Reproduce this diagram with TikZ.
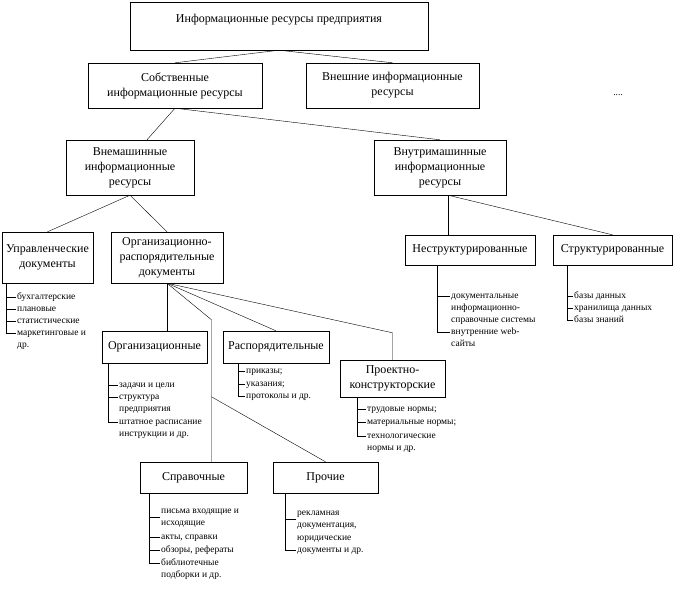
\documentclass[tikz,border=0pt]{standalone}
\usepackage{fontspec}
\setmainfont{Liberation Serif}
\usepackage{tikz}
\usetikzlibrary{positioning}
\newcommand{\boxfont}{\fontsize{12}{15}\selectfont}
\newcommand{\itemfont}{\fontsize{9.5}{12}\selectfont}
\newcommand{\rows}[1]{\begin{tabular}[t]{@{}l@{}}#1\end{tabular}}
\tikzset{
    block/.style={draw, thin, align=center, font=\boxfont, inner sep=2pt}, % рамка блока
    link/.style={draw, thin},
    item/.style={anchor=north west, inner xsep=1pt, inner ysep=0pt, font=\itemfont}
}

\begin{document}
\begin{tikzpicture}[x=1pt, y=-1pt]
	\useasboundingbox (0,0) rectangle (673,589);

	\node (res) [block, minimum width=298pt, minimum height=48pt, text height=12pt, text depth=20pt] at (279,26) {Информационные ресурсы предприятия};
	\node (own) [block, minimum width=174pt, minimum height=45pt] at (175,85.5) {Собственные\\информационные ресурсы};
	\node (ext) [block, minimum width=173pt, minimum height=45pt] at (392.5,85.5) {Внешние информационные\\ресурсы};
	\node (dots) [font=\itemfont] at (618,95) {....};
	\node (offl) [block, minimum width=128pt, minimum height=55pt] at (130,167.5) {Внемашинные\\информационные\\ресурсы};
	\node (onl) [block, minimum width=132pt, minimum height=55pt] at (440,167.5) {Внутримашинные\\информационные\\ресурсы};
	\node (mgmt) [block, minimum width=91pt, minimum height=51pt] at (47.5,257.5) {Управленческие\\документы};
	\node (ord) [block, minimum width=112pt, minimum height=51pt] at (167,257.5) {Организационно-\\распорядительные\\документы};
	\node (unstr) [block, minimum width=130pt, minimum height=30pt] at (470,250) {Неструктурированные};
	\node (str) [block, minimum width=119pt, minimum height=30pt] at (612.5,250) {Структурированные};
	\node (orgz) [block, minimum width=105pt, minimum height=32pt] at (154.5,347) {Организационные};
	\node (disp) [block, minimum width=106pt, minimum height=32pt] at (276,347) {Распорядительные};
	\node (proj) [block, minimum width=105pt, minimum height=37pt] at (392.5,378.5) {Проектно-\\конструкторские};
	\node (ref) [block, minimum width=107pt, minimum height=31pt] at (193.5,477.5) {Справочные};
	\node (other) [block, minimum width=105pt, minimum height=31pt] at (325.5,477.5) {Прочие};

	% перечни
	\node (m1) [item] at (16,291) {\rows{бухгалтерские}};
	\node (m2) [item] at (16,303) {\rows{плановые}};
	\node (m3) [item] at (16,315) {\rows{статистические}};
	\node (m4) [item] at (16,327) {\rows{маркетинговые и\\др.}};
	\node (u1) [item] at (450,290) {\rows{документальные\\информационно-\\справочные системы}};
	\node (u2) [item] at (450,326) {\rows{внутренние web-\\сайты}};
	\node (s1) [item] at (573,290) {\rows{базы данных}};
	\node (s2) [item] at (573,302) {\rows{хранилища данных}};
	\node (s3) [item] at (573,314) {\rows{базы знаний}};
	\node (o1) [item] at (118,379) {\rows{задачи и цели}};
	\node (o2) [item] at (118,391) {\rows{структура\\предприятия}};
	\node (o3) [item] at (118,416) {\rows{штатное расписание\\инструкции и др.}};
	\node (d1) [item] at (245,365) {\rows{приказы;}};
	\node (d2) [item] at (245,378) {\rows{указания;}};
	\node (d3) [item] at (245,390) {\rows{протоколы и др.}};
	\node (p1) [item] at (366,403) {\rows{трудовые нормы;}};
	\node (p2) [item] at (366,416) {\rows{материальные нормы;}};
	\node (p3) [item] at (366,430) {\rows{технологические\\нормы и др.}};
	\node (r1) [item] at (160,505) {\rows{письма входящие и\\исходящие}};
	\node (r2) [item] at (160,531) {\rows{акты, справки}};
	\node (r3) [item] at (160,544) {\rows{обзоры, рефераты}};
	\node (r4) [item] at (160,557) {\rows{библиотечные\\подборки и др.}};
	\node (q1) [item] at (296,507) {\rows{рекламная\\документация,}};
	\node (q2) [item] at (296,532) {\rows{юридические\\документы и др.}};

	\draw[link] (res.south) -- (own.north);
	\draw[link] (res.south) -- (ext.north);
	\draw[link] (own.south) -- ([xshift=17pt]offl.north);
	\draw[link] (own.south) -- (onl.north);
	\draw[link] (offl.south) -- (mgmt.north);
	\draw[link] (offl.south) -- (ord.north);
	\coordinate (onlfork) at ([xshift=8pt]onl.south);
	\draw[link] (onlfork) -- (onlfork |- unstr.north);
	\draw[link] (onlfork) -- (str.north);
	\draw[link] (ord.south) -- (ord.south |- orgz.north);
	\draw[link] (ord.south) -- (disp.north);
	\draw[link] (ord.south) -- ([yshift=27pt]proj.north) -- (proj.north);
	\coordinate (refbend) at ([xshift=18pt,yshift=142pt]ref.north);
	\coordinate (fork) at ([xshift=18pt,yshift=65pt]ref.north);
	\draw[link] (ord.south) -- (refbend) -- ([xshift=18pt]ref.north);
	\draw[link] (fork) -- (other.north);

	% стволы и отводы
	\draw[link] ([xshift=4pt]mgmt.south west) |- ([yshift=-6.5pt]m4.north west);
	\foreach \n in {m1,m2,m3}
		\draw[link] ([yshift=-6.5pt]\n.north west) -- ++(-10,0);
	\draw[link] ([xshift=32pt]unstr.south west) |- ([yshift=-6.5pt]u2.north west);
	\draw[link] ([yshift=-6.5pt]u1.north west) -- ++(-13,0);
	\draw[link] ([xshift=14pt]str.south west) |- ([yshift=-6.5pt]s3.north west);
	\foreach \n in {s1,s2}
		\draw[link] ([yshift=-6.5pt]\n.north west) -- ++(-6,0);
	\draw[link] ([xshift=6pt]orgz.south west) |- ([yshift=-6.5pt]o3.north west);
	\foreach \n in {o1,o2}
		\draw[link] ([yshift=-6.5pt]\n.north west) -- ++(-10,0);
	\draw[link] ([xshift=15pt]disp.south west) |- ([yshift=-6.5pt]d3.north west);
	\foreach \n in {d1,d2}
		\draw[link] ([yshift=-6.5pt]\n.north west) -- ++(-7,0);
	\draw[link] ([xshift=17pt]proj.south west) |- ([yshift=-6.5pt]p3.north west);
	\foreach \n in {p1,p2}
		\draw[link] ([yshift=-6.5pt]\n.north west) -- ++(-9,0);
	\draw[link] ([xshift=9pt]ref.south west) |- ([yshift=-6.5pt]r4.north west);
	\draw[link] ([yshift=-12.5pt]r1.north west) -- ++(-11,0);
	\foreach \n in {r2,r3}
		\draw[link] ([yshift=-6.5pt]\n.north west) -- ++(-11,0);
	\draw[link] ([xshift=12pt]other.south west) |- ([yshift=-18.5pt]q2.north west);
	\draw[link] ([yshift=-12.5pt]q1.north west) -- ++(-11,0);
\end{tikzpicture}
\end{document}
